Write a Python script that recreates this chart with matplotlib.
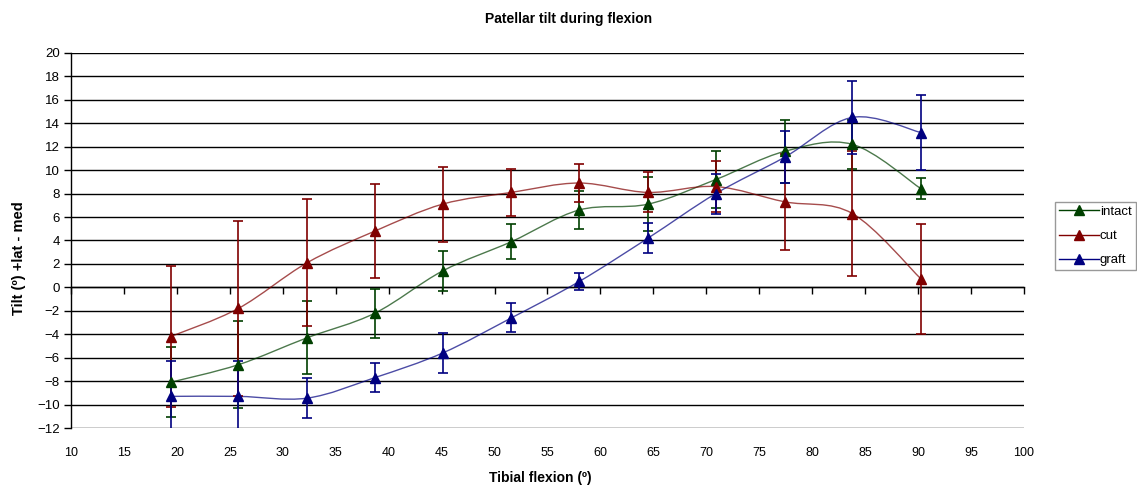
import matplotlib
matplotlib.use("Agg")
import matplotlib.pyplot as plt
from matplotlib.path import Path
from matplotlib.patches import PathPatch
from matplotlib.lines import Line2D
import numpy as np

plt.rcParams['font.family'] = ['Liberation Sans', 'DejaVu Sans']

# data
flexion = [19.4, 25.8, 32.3, 38.7, 45.1, 51.6, 58.0, 64.5, 70.9, 77.4, 83.8, 90.3]
intact = [-8.1, -6.6, -4.3, -2.2, 1.4, 3.9, 6.6, 7.1, 9.2, 11.6, 12.2, 8.4]
intact_err = [3.0, 3.7, 3.1, 2.1, 1.7, 1.5, 1.6, 2.3, 2.4, 2.7, 2.1, 0.9]
cut = [-4.2, -1.8, 2.1, 4.8, 7.1, 8.1, 8.9, 8.1, 8.6, 7.3, 6.3, 0.7]
cut_err = [6.0, 7.5, 5.4, 4.0, 3.2, 2.0, 1.6, 1.7, 2.2, 4.1, 5.3, 4.7]
graft = [-9.3, -9.3, -9.45, -7.7, -5.6, -2.6, 0.5, 4.2, 8.0, 11.1, 14.5, 13.2]
graft_err = [3.0, 3.0, 1.7, 1.25, 1.7, 1.25, 0.7, 1.25, 1.7, 2.2, 3.1, 3.2]

series = [
    ("intact", intact, intact_err, "#004000"),
    ("cut", cut, cut_err, "#800000"),
    ("graft", graft, graft_err, "#000080"),
]


def smooth_path(x, y):
    # Excel-like smoothed line: cubic bezier segments through the points
    pts = np.column_stack([x, y])
    n = len(pts)
    verts = [pts[0]]
    codes = [Path.MOVETO]
    for i in range(n - 1):
        p_prev = pts[max(i - 1, 0)]
        p0 = pts[i]
        p1 = pts[i + 1]
        p_next = pts[min(i + 2, n - 1)]
        c1 = p0 + (p1 - p_prev) / 6.0
        c2 = p1 - (p_next - p0) / 6.0
        verts += [c1, c2, p1]
        codes += [Path.CURVE4] * 3
    return Path(verts, codes)


fig = plt.figure(figsize=(11.37, 4.9), dpi=100)
ax = fig.add_axes([0.0625, 0.1265, 0.838, 0.7655])

for name, vals, err, color in series:
    ax.add_patch(PathPatch(smooth_path(flexion, vals), facecolor='none',
                           edgecolor=color, lw=1.0, alpha=0.7, zorder=3))
    ax.errorbar(flexion, vals, yerr=err, fmt='none', ecolor=color,
                elinewidth=1.2, capsize=3.6, capthick=1.2, zorder=4)
    ax.plot(flexion, vals, linestyle='none', marker='^', markersize=6.5,
            color=color, zorder=5)

ax.set_xlim(10, 100)
ax.set_ylim(-12, 20)
ax.set_xticks(np.arange(10, 101, 5))
ax.set_yticks(np.arange(-12, 21, 2))
ax.yaxis.grid(True, color='black', lw=1.0)
ax.set_axisbelow(True)

ax.spines['top'].set_visible(False)
ax.spines['right'].set_visible(False)
ax.spines['bottom'].set_position(('data', 0))
ax.spines['left'].set_linewidth(1.0)
ax.spines['bottom'].set_linewidth(1.0)
ax.tick_params(axis='x', direction='out', length=5, width=1, labelbottom=False)
ax.tick_params(axis='y', direction='out', length=5, width=1, labelsize=9.5, pad=3)

# x tick labels sit below the plot area
sec = ax.secondary_xaxis('bottom')
sec.set_xticks(np.arange(10, 101, 5))
sec.tick_params(length=0, pad=14, labelsize=9)
sec.spines['bottom'].set_visible(False)

fig.text(0.5, 0.962, "Patellar tilt during flexion", ha='center', va='center',
         fontsize=10, fontweight='bold')
fig.text(0.475, 0.024, "Tibial flexion (º)", ha='center', va='center',
         fontsize=10, fontweight='bold')
fig.text(0.017, 0.473, "Tilt (º) +lat - med", ha='center', va='center',
         rotation=90, fontsize=10.5, fontweight='bold')

handles = [Line2D([0], [0], color=c, lw=1, marker='^', markersize=6.5)
           for _, _, _, c in series]
labels = [s[0] for s in series]
leg = fig.legend(handles, labels, loc='upper left', bbox_to_anchor=(0.928, 0.588),
                 fontsize=9.5, frameon=True, fancybox=False, edgecolor='#808080',
                 borderpad=0.3, handlelength=3.0, handletextpad=0.1,
                 labelspacing=0.9, borderaxespad=0)
leg.get_frame().set_linewidth(1.0)

fig.savefig("out.png", dpi=100)
